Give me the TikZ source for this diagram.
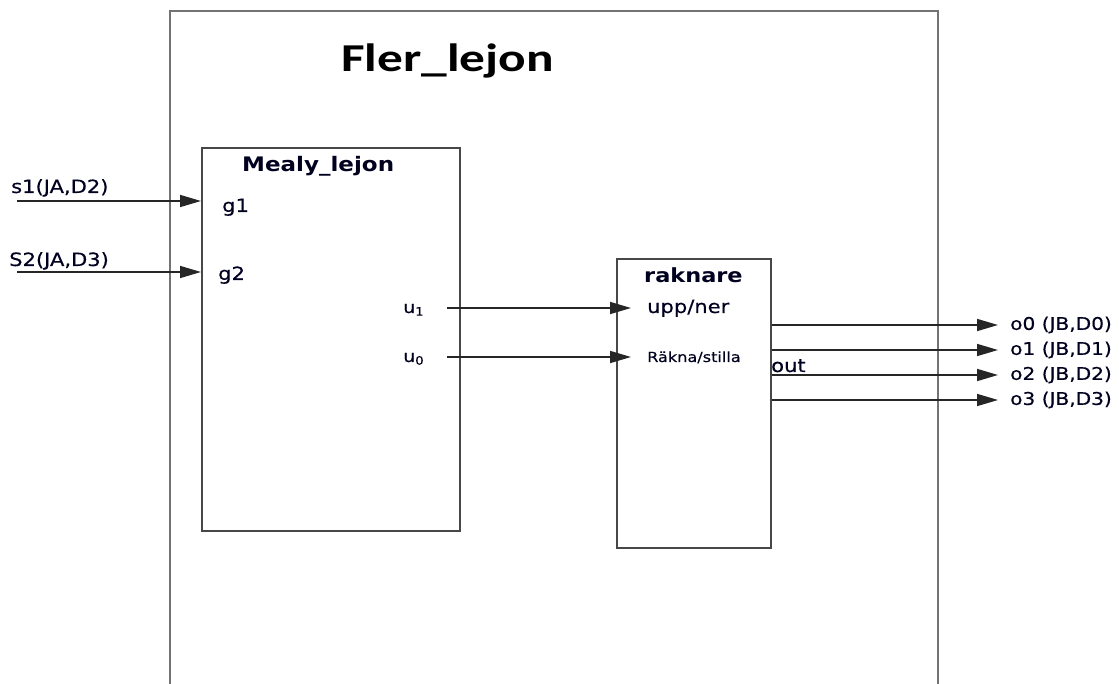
\documentclass[tikz,border=0pt]{standalone}
\usepackage{fontspec}
\usetikzlibrary{arrows.meta}
\newfontfamily\lblfont[FakeStretch=1.15,FakeBold=0.4]{DejaVu Sans}
\newfontfamily\lblbold[FakeStretch=1.15]{DejaVu Sans Bold}
\newfontfamily\titlefont[FakeStretch=1.3]{Carlito}
\tikzset{
  boxgray/.style={draw=black!72, line width=1.6pt},
  outerbox/.style={draw=black!55, line width=2pt},
  conn/.style={draw=black!85, line width=1.6pt, -{Triangle[length=21pt,width=12pt]}},
  lbl/.style={font=\lblfont\fontsize{18.3}{20}\selectfont, inner sep=0pt, anchor=base west, text=black!88!blue},
}
\begin{document}
\begin{tikzpicture}[x=1pt,y=-1pt]
\useasboundingbox (0,0) rectangle (1119,684);
% outer box (open at the bottom)
\draw[outerbox] (170,700) -- (170,11) -- (938,11) -- (938,700);
\node[inner sep=0pt, anchor=base west, font=\titlefont\bfseries\fontsize{39.5}{42}\selectfont] (title) at (341,72) {Fler\_lejon};
% blocks
\node[boxgray, minimum width=258pt, minimum height=383pt, anchor=north west, inner sep=0pt] (mealy) at (201,147) {};
\node[boxgray, minimum width=154pt, minimum height=289pt, anchor=north west, inner sep=0pt] (rak) at (616,258) {};
\node[lbl, font=\lblbold\fontsize{20}{22}\selectfont] (mealyt) at (242,172) {Mealy\_lejon};
\node[lbl, font=\lblbold\fontsize{19.5}{22}\selectfont] (rakt) at (644,283) {raknare};
% input labels
\node[lbl] (s1) at (11,193) {s1(JA,D2)};
\node[lbl] (s2) at (9,266) {S2(JA,D3)};
\node[lbl] (g1) at (222,212) {g1};
\node[lbl] (g2) at (218,280) {g2};
\node[lbl, font=\lblfont\fontsize{16.5}{18}\selectfont] (u1) at (403,313) {u\textsubscript{1}};
\node[lbl, font=\lblfont\fontsize{16.5}{18}\selectfont] (u0) at (403,362) {u\textsubscript{0}};
\node[lbl] (uppner) at (647,313) {upp/ner};
\node[lbl, font=\lblfont\fontsize{14}{16}\selectfont] (rakna) at (647,362) {Räkna/stilla};
\node[lbl] (out) at (771,372) {out};
% output labels
\node[lbl, anchor=west, font=\lblfont\fontsize{17.5}{19}\selectfont] (o0) at (1010,325) {o0 (JB,D0)};
\node[lbl, anchor=west, font=\lblfont\fontsize{17.5}{19}\selectfont] (o1) at (1010,350) {o1 (JB,D1)};
\node[lbl, anchor=west, font=\lblfont\fontsize{17.5}{19}\selectfont] (o2) at (1010,375) {o2 (JB,D2)};
\node[lbl, anchor=west, font=\lblfont\fontsize{17.5}{19}\selectfont] (o3) at (1010,400) {o3 (JB,D3)};
% free ends
\coordinate (s1in) at (17,201);
\coordinate (s2in) at (17,272);
\coordinate (u1o) at (447,308);
\coordinate (u0o) at (447,357);
% connectors
\draw[conn] (s1in) -- (s1in -| mealy.west);
\draw[conn] (s2in) -- (s2in -| mealy.west);
\draw[conn, shorten >=-15pt] (u1o) -- (u1o -| rak.west);
\draw[conn, shorten >=-15pt] (u0o) -- (u0o -| rak.west);
\draw[conn, shorten >=12pt] (rak.east |- o0) -- (o0.west);
\draw[conn, shorten >=12pt] (rak.east |- o1) -- (o1.west);
\draw[conn, shorten >=12pt] (rak.east |- o2) -- (o2.west);
\draw[conn, shorten >=12pt] (rak.east |- o3) -- (o3.west);
\end{tikzpicture}
\end{document}
